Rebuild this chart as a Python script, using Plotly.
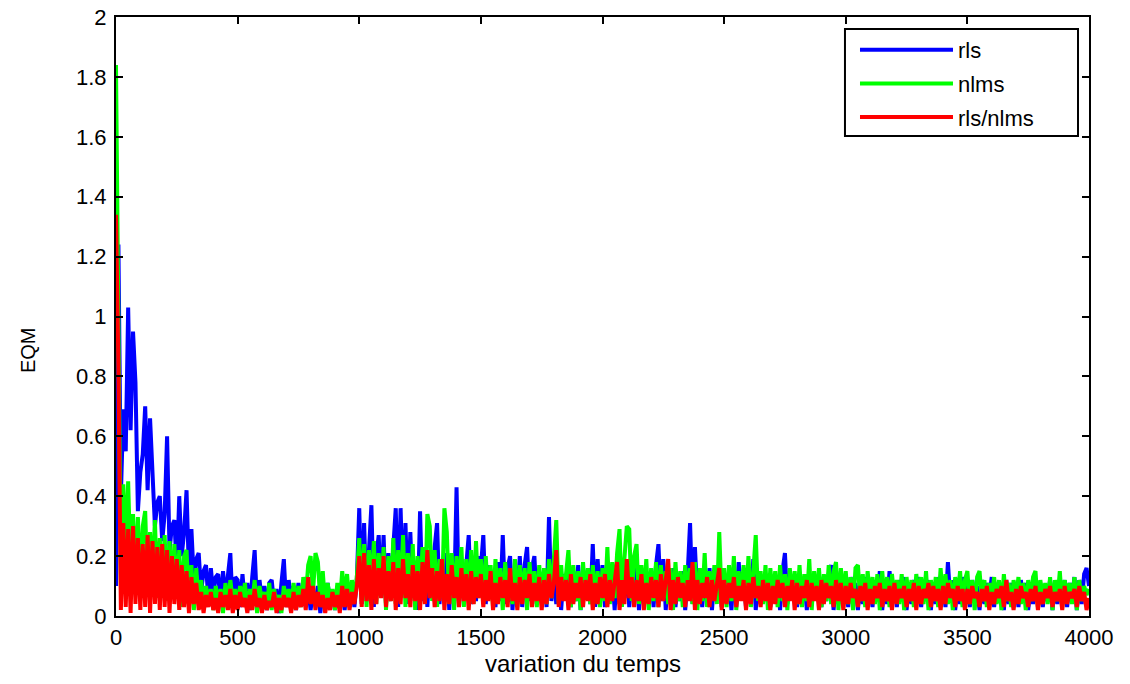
import plotly.graph_objects as go

# Sample index (time) axis: one value every 10 samples, 0..4000
STEP = 10
N_SAMPLES = 4000

# Values (EQM), one per 10 samples
RLS = [
    0.10, 1.24, 0.40, 0.69, 0.55, 1.03, 0.62, 0.95, 0.78, 0.35,
    0.48, 0.54, 0.70, 0.42, 0.66, 0.48, 0.30, 0.38, 0.40, 0.25,
    0.34, 0.60, 0.22, 0.30, 0.32, 0.15, 0.40, 0.20, 0.28, 0.42,
    0.14, 0.29, 0.12, 0.19, 0.21, 0.08, 0.15, 0.17, 0.05, 0.16,
    0.07, 0.13, 0.14, 0.04, 0.15, 0.06, 0.14, 0.21, 0.02, 0.13,
    0.12, 0.03, 0.14, 0.04, 0.11, 0.02, 0.13, 0.22, 0.03, 0.12,
    0.05, 0.10, 0.02, 0.11, 0.12, 0.04, 0.09, 0.01, 0.11, 0.19,
    0.03, 0.12, 0.05, 0.10, 0.02, 0.11, 0.04, 0.09, 0.03, 0.10,
    0.02, 0.08, 0.04, 0.10, 0.01, 0.09, 0.03, 0.11, 0.05, 0.08,
    0.02, 0.10, 0.04, 0.09, 0.02, 0.11, 0.05, 0.10, 0.03, 0.12,
    0.36, 0.04, 0.31, 0.05, 0.22, 0.37, 0.03, 0.20, 0.27, 0.06,
    0.27, 0.04, 0.21, 0.05, 0.23, 0.36, 0.03, 0.36, 0.07, 0.31,
    0.04, 0.28, 0.06, 0.18, 0.02, 0.35, 0.05, 0.22, 0.03, 0.20,
    0.06, 0.23, 0.31, 0.04, 0.19, 0.06, 0.21, 0.02, 0.18, 0.05,
    0.43, 0.03, 0.19, 0.06, 0.17, 0.27, 0.04, 0.18, 0.05, 0.20,
    0.16, 0.27, 0.04, 0.17, 0.06, 0.15, 0.03, 0.18, 0.05, 0.27,
    0.04, 0.16, 0.20, 0.02, 0.15, 0.06, 0.20, 0.03, 0.17, 0.23,
    0.05, 0.16, 0.20, 0.04, 0.14, 0.06, 0.16, 0.03, 0.33, 0.05,
    0.15, 0.04, 0.17, 0.02, 0.14, 0.06, 0.16, 0.03, 0.15, 0.05,
    0.17, 0.02, 0.14, 0.06, 0.16, 0.04, 0.24, 0.03, 0.19, 0.05,
    0.17, 0.03, 0.15, 0.05, 0.14, 0.02, 0.16, 0.04, 0.15, 0.06,
    0.17, 0.03, 0.14, 0.05, 0.16, 0.02, 0.15, 0.04, 0.13, 0.06,
    0.15, 0.03, 0.17, 0.24, 0.05, 0.19, 0.02, 0.14, 0.06, 0.16,
    0.03, 0.13, 0.05, 0.15, 0.02, 0.14, 0.31, 0.04, 0.23, 0.06,
    0.15, 0.03, 0.14, 0.05, 0.16, 0.02, 0.13, 0.06, 0.15, 0.03,
    0.14, 0.05, 0.13, 0.02, 0.15, 0.04, 0.18, 0.06, 0.13, 0.03,
    0.14, 0.05, 0.19, 0.02, 0.13, 0.04, 0.12, 0.06, 0.14, 0.03,
    0.13, 0.05, 0.12, 0.02, 0.15, 0.21, 0.04, 0.13, 0.06, 0.12,
    0.03, 0.14, 0.05, 0.12, 0.02, 0.13, 0.04, 0.11, 0.06, 0.13,
    0.03, 0.12, 0.05, 0.14, 0.17, 0.02, 0.12, 0.04, 0.15, 0.06,
    0.12, 0.03, 0.13, 0.05, 0.11, 0.02, 0.12, 0.04, 0.13, 0.06,
    0.11, 0.03, 0.12, 0.05, 0.15, 0.02, 0.12, 0.04, 0.15, 0.06,
    0.11, 0.03, 0.12, 0.05, 0.13, 0.02, 0.11, 0.04, 0.12, 0.06,
    0.13, 0.03, 0.11, 0.05, 0.12, 0.02, 0.11, 0.04, 0.13, 0.06,
    0.12, 0.03, 0.18, 0.05, 0.12, 0.02, 0.11, 0.04, 0.13, 0.06,
    0.11, 0.03, 0.12, 0.05, 0.10, 0.02, 0.12, 0.04, 0.11, 0.06,
    0.13, 0.03, 0.11, 0.05, 0.10, 0.02, 0.12, 0.04, 0.11, 0.06,
    0.10, 0.03, 0.12, 0.05, 0.11, 0.02, 0.10, 0.04, 0.12, 0.06,
    0.11, 0.03, 0.10, 0.05, 0.12, 0.02, 0.11, 0.04, 0.10, 0.06,
    0.12, 0.03, 0.11, 0.05, 0.13, 0.02, 0.12, 0.04, 0.14, 0.16,
    0.10,
]

NLMS = [
    1.84, 0.86, 0.10, 0.44, 0.20, 0.45, 0.15, 0.34, 0.12, 0.33,
    0.10, 0.30, 0.35, 0.08, 0.28, 0.12, 0.32, 0.06, 0.26, 0.10,
    0.27, 0.05, 0.25, 0.08, 0.24, 0.06, 0.22, 0.03, 0.20, 0.22,
    0.05, 0.17, 0.02, 0.16, 0.04, 0.12, 0.03, 0.10, 0.05, 0.09,
    0.02, 0.10, 0.04, 0.09, 0.01, 0.11, 0.03, 0.12, 0.05, 0.09,
    0.03, 0.10, 0.05, 0.11, 0.02, 0.09, 0.04, 0.12, 0.01, 0.10,
    0.05, 0.08, 0.03, 0.11, 0.02, 0.09, 0.04, 0.07, 0.01, 0.10,
    0.05, 0.09, 0.02, 0.11, 0.04, 0.10, 0.03, 0.13, 0.06, 0.17,
    0.20, 0.08, 0.21, 0.18, 0.05, 0.15, 0.03, 0.11, 0.05, 0.09,
    0.02, 0.11, 0.04, 0.15, 0.06, 0.14, 0.03, 0.12, 0.05, 0.13,
    0.26, 0.05, 0.24, 0.03, 0.22, 0.06, 0.25, 0.04, 0.21, 0.07,
    0.23, 0.02, 0.20, 0.05, 0.26, 0.04, 0.22, 0.06, 0.27, 0.03,
    0.21, 0.05, 0.24, 0.02, 0.20, 0.06, 0.23, 0.04, 0.34, 0.30,
    0.05, 0.22, 0.03, 0.19, 0.06, 0.36, 0.28, 0.04, 0.21, 0.02,
    0.20, 0.06, 0.23, 0.03, 0.19, 0.05, 0.22, 0.04, 0.25, 0.06,
    0.19, 0.04, 0.20, 0.06, 0.17, 0.03, 0.19, 0.05, 0.16, 0.02,
    0.18, 0.06, 0.15, 0.04, 0.19, 0.03, 0.17, 0.05, 0.16, 0.02,
    0.18, 0.06, 0.15, 0.03, 0.17, 0.05, 0.16, 0.04, 0.19, 0.06,
    0.20, 0.32, 0.04, 0.17, 0.06, 0.16, 0.22, 0.03, 0.17, 0.05,
    0.15, 0.02, 0.18, 0.06, 0.16, 0.04, 0.17, 0.05, 0.15, 0.03,
    0.16, 0.05, 0.23, 0.04, 0.18, 0.06, 0.21, 0.29, 0.03, 0.19,
    0.30, 0.29, 0.05, 0.20, 0.24, 0.04, 0.17, 0.06, 0.19, 0.02,
    0.16, 0.05, 0.18, 0.03, 0.17, 0.06, 0.15, 0.04, 0.16, 0.02,
    0.18, 0.05, 0.15, 0.03, 0.17, 0.06, 0.16, 0.04, 0.18, 0.02,
    0.16, 0.05, 0.21, 0.03, 0.15, 0.06, 0.17, 0.04, 0.28, 0.05,
    0.16, 0.03, 0.17, 0.05, 0.20, 0.02, 0.15, 0.06, 0.17, 0.04,
    0.20, 0.03, 0.16, 0.27, 0.05, 0.15, 0.04, 0.17, 0.02, 0.16,
    0.06, 0.15, 0.03, 0.17, 0.05, 0.14, 0.02, 0.16, 0.06, 0.15,
    0.04, 0.17, 0.03, 0.14, 0.05, 0.19, 0.02, 0.15, 0.06, 0.16,
    0.03, 0.14, 0.05, 0.17, 0.04, 0.15, 0.18, 0.02, 0.16, 0.06,
    0.15, 0.04, 0.13, 0.02, 0.16, 0.17, 0.05, 0.14, 0.03, 0.15,
    0.06, 0.13, 0.04, 0.14, 0.02, 0.15, 0.05, 0.13, 0.03, 0.14,
    0.06, 0.12, 0.04, 0.14, 0.02, 0.13, 0.05, 0.12, 0.03, 0.14,
    0.06, 0.13, 0.04, 0.15, 0.02, 0.12, 0.05, 0.13, 0.03, 0.16,
    0.05, 0.14, 0.04, 0.12, 0.02, 0.13, 0.06, 0.15, 0.03, 0.12,
    0.15, 0.04, 0.12, 0.02, 0.13, 0.15, 0.05, 0.12, 0.03, 0.11,
    0.06, 0.13, 0.04, 0.12, 0.02, 0.14, 0.05, 0.11, 0.03, 0.12,
    0.06, 0.13, 0.04, 0.11, 0.02, 0.12, 0.05, 0.13, 0.15, 0.03,
    0.12, 0.06, 0.11, 0.04, 0.13, 0.02, 0.12, 0.05, 0.15, 0.03,
    0.12, 0.06, 0.11, 0.04, 0.13, 0.02, 0.12, 0.05, 0.10, 0.07,
    0.09,
]

RLS_NLMS = [
    1.34, 0.83, 0.02, 0.31, 0.03, 0.29, 0.01, 0.30, 0.04, 0.26,
    0.02, 0.24, 0.03, 0.27, 0.01, 0.25, 0.04, 0.23, 0.02, 0.24,
    0.03, 0.22, 0.01, 0.20, 0.04, 0.19, 0.02, 0.17, 0.03, 0.15,
    0.01, 0.13, 0.04, 0.11, 0.02, 0.08, 0.01, 0.07, 0.03, 0.08,
    0.02, 0.06, 0.01, 0.08, 0.03, 0.07, 0.02, 0.09, 0.01, 0.07,
    0.02, 0.08, 0.03, 0.06, 0.01, 0.07, 0.02, 0.09, 0.03, 0.06,
    0.01, 0.07, 0.02, 0.05, 0.03, 0.08, 0.01, 0.06, 0.02, 0.07,
    0.03, 0.06, 0.01, 0.08, 0.02, 0.07, 0.03, 0.09, 0.02, 0.13,
    0.04, 0.10, 0.02, 0.08, 0.03, 0.07, 0.01, 0.06, 0.02, 0.08,
    0.03, 0.07, 0.01, 0.10, 0.03, 0.09, 0.02, 0.08, 0.04, 0.10,
    0.20, 0.03, 0.21, 0.05, 0.17, 0.02, 0.19, 0.04, 0.16, 0.06,
    0.20, 0.03, 0.15, 0.05, 0.18, 0.02, 0.16, 0.04, 0.19, 0.06,
    0.14, 0.03, 0.17, 0.05, 0.15, 0.02, 0.18, 0.04, 0.22, 0.06,
    0.16, 0.03, 0.15, 0.05, 0.19, 0.02, 0.14, 0.04, 0.17, 0.06,
    0.13, 0.03, 0.16, 0.05, 0.14, 0.02, 0.15, 0.04, 0.13, 0.06,
    0.14, 0.03, 0.12, 0.05, 0.15, 0.02, 0.11, 0.04, 0.13, 0.06,
    0.12, 0.03, 0.16, 0.05, 0.11, 0.02, 0.13, 0.04, 0.12, 0.06,
    0.14, 0.03, 0.11, 0.05, 0.13, 0.02, 0.12, 0.04, 0.14, 0.06,
    0.11, 0.22, 0.03, 0.13, 0.05, 0.12, 0.02, 0.14, 0.04, 0.11,
    0.06, 0.13, 0.03, 0.12, 0.05, 0.14, 0.02, 0.11, 0.04, 0.13,
    0.06, 0.14, 0.03, 0.12, 0.05, 0.13, 0.18, 0.02, 0.12, 0.04,
    0.19, 0.06, 0.13, 0.03, 0.12, 0.05, 0.14, 0.02, 0.11, 0.04,
    0.13, 0.06, 0.12, 0.03, 0.14, 0.05, 0.11, 0.19, 0.02, 0.12,
    0.04, 0.13, 0.06, 0.11, 0.03, 0.12, 0.05, 0.18, 0.02, 0.12,
    0.04, 0.11, 0.06, 0.13, 0.03, 0.12, 0.05, 0.11, 0.16, 0.02,
    0.12, 0.04, 0.11, 0.06, 0.13, 0.03, 0.10, 0.05, 0.12, 0.02,
    0.11, 0.04, 0.13, 0.06, 0.10, 0.03, 0.12, 0.05, 0.11, 0.02,
    0.10, 0.04, 0.12, 0.06, 0.11, 0.03, 0.10, 0.05, 0.12, 0.02,
    0.11, 0.04, 0.10, 0.06, 0.12, 0.03, 0.11, 0.05, 0.10, 0.02,
    0.12, 0.04, 0.11, 0.06, 0.10, 0.03, 0.12, 0.05, 0.11, 0.02,
    0.10, 0.04, 0.11, 0.06, 0.09, 0.03, 0.10, 0.05, 0.11, 0.02,
    0.09, 0.04, 0.10, 0.06, 0.11, 0.03, 0.09, 0.05, 0.10, 0.02,
    0.11, 0.04, 0.09, 0.06, 0.10, 0.03, 0.09, 0.05, 0.11, 0.02,
    0.10, 0.04, 0.09, 0.06, 0.11, 0.03, 0.10, 0.05, 0.09, 0.02,
    0.10, 0.04, 0.11, 0.06, 0.09, 0.03, 0.10, 0.05, 0.09, 0.02,
    0.09, 0.04, 0.10, 0.06, 0.08, 0.03, 0.09, 0.05, 0.10, 0.02,
    0.08, 0.04, 0.09, 0.06, 0.10, 0.03, 0.12, 0.05, 0.08, 0.02,
    0.09, 0.04, 0.10, 0.06, 0.08, 0.03, 0.09, 0.05, 0.10, 0.02,
    0.08, 0.04, 0.09, 0.06, 0.10, 0.03, 0.08, 0.05, 0.09, 0.02,
    0.10, 0.04, 0.08, 0.06, 0.09, 0.03, 0.10, 0.05, 0.08, 0.02,
    0.06,
]

SERIES_NAMES = ["rls", "nlms", "rls/nlms"]
X_TICKS = [0, 500, 1000, 1500, 2000, 2500, 3000, 3500, 4000]
Y_TICKS = [0, 0.2, 0.4, 0.6, 0.8, 1, 1.2, 1.4, 1.6, 1.8, 2]
X_LABEL = "variation du temps"
Y_LABEL = "EQM"

time = list(range(0, N_SAMPLES + 1, STEP))
colors = ["#0000ff", "#00ff00", "#ff0000"]
FONT = "Liberation Sans, Arial, Helvetica, sans-serif"

fig = go.Figure()
for name, vals, col in zip(SERIES_NAMES, [RLS, NLMS, RLS_NLMS], colors):
    fig.add_trace(go.Scatter(
        x=time, y=vals, mode="lines", name=name, legendgroup=name,
        line=dict(color=col, width=4),
    ))

axis_common = dict(
    showline=True, linecolor="black", linewidth=2, mirror="ticks",
    ticks="inside", ticklen=7, tickwidth=1.5, tickcolor="black",
    showgrid=False, zeroline=False, ticklabeloverflow="allow",
    automargin=False,
    tickfont=dict(family=FONT, size=22, color="black"),
)

fig.update_layout(
    width=1130, height=684,
    margin=dict(l=116, r=41, t=17, b=68, autoexpand=False),
    paper_bgcolor="white", plot_bgcolor="white",
    font=dict(family=FONT, color="black"),
    xaxis=dict(range=[0, 4000], tickvals=X_TICKS, ticklabelstandoff=1, **axis_common),
    yaxis=dict(range=[0, 2], tickvals=Y_TICKS, ticklabelstandoff=3, **axis_common),
    legend=dict(
        x=0.7595, y=0.98, xanchor="left", yanchor="top",
        bgcolor="rgba(0,0,0,0)", borderwidth=0,
        font=dict(family=FONT, size=22, color="black"),
        itemwidth=93, tracegroupgap=2,
    ),
    shapes=[
        dict(type="rect", xref="paper", yref="paper",
             x0=0.7492, x1=0.9887, y0=0.8013, y1=0.98,
             line=dict(color="black", width=2), fillcolor="white", layer="above"),
    ],
    annotations=[
        dict(text=X_LABEL, xref="paper", yref="paper", x=0.48, y=-0.08,
             xanchor="center", yanchor="middle", showarrow=False,
             font=dict(family=FONT, size=24, color="black")),
        dict(text=Y_LABEL, xref="paper", yref="paper", x=-0.0904, y=0.444,
             xanchor="center", yanchor="middle", showarrow=False, textangle=-90,
             font=dict(family=FONT, size=20, color="black")),
    ],
)

# remove the page's default body margin so the figure sits at the top-left corner
fig.write_html(
    "out.html",
    config={"displayModeBar": False},
    post_script="document.body.style.margin='0';",
)
